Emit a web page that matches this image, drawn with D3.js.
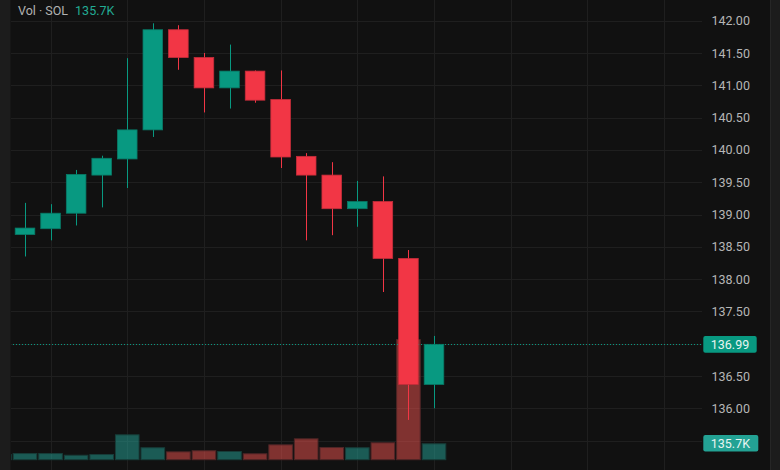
<!DOCTYPE html>
<html>
<head>
<meta charset="utf-8">
<script src="https://cdn.jsdelivr.net/npm/d3@7/dist/d3.min.js"></script>
<style>
  html, body { margin: 0; padding: 0; background: #111111; }
  svg { display: block; }
  text { font-family: Roboto, "Noto Sans", sans-serif; }
</style>
</head>
<body>
<svg id="chart" width="780" height="470"></svg>
<script>
// ---- data ----
const categories = ["b0","b1","b2","b3","b4","b5","b6","b7","b8","b9","b10","b11","b12","b13","b14","b15","b16","b17"];
const openVals  = [138.60, 138.69, 138.78, 139.02, 139.61, 139.86, 140.31, 141.86, 141.43, 140.96, 141.22, 140.78, 139.90, 139.61, 139.09, 139.20, 138.32, 136.37];
const closeVals = [138.69, 138.79, 139.02, 139.62, 139.87, 140.31, 141.86, 141.43, 140.96, 141.22, 140.77, 139.89, 139.61, 139.09, 139.20, 138.32, 136.37, 136.99];
const highVals  = [138.75, 139.18, 139.16, 139.69, 139.91, 141.42, 141.96, 141.93, 141.50, 141.63, 141.23, 141.23, 139.95, 139.81, 139.52, 139.59, 138.45, 137.12];
const lowVals   = [138.50, 138.35, 138.60, 138.83, 139.11, 139.41, 140.20, 141.24, 140.58, 140.64, 140.73, 139.72, 138.60, 138.68, 138.81, 137.80, 135.82, 136.00];
const volumeK   = [47, 55, 55, 41, 47, 210, 103, 69, 78, 72, 53, 127, 177, 105, 103, 144, 998, 135.7];
const priceTicks = [135.5, 136.0, 136.5, 137.0, 137.5, 138.0, 138.5, 139.0, 139.5, 140.0, 140.5, 141.0, 141.5, 142.0];
const lastPriceLabel = "136.99";
const lastVolumeLabel = "135.7K";
const legendName = "Vol · SOL";

// ---- layout ----
const W = 780, H = 470;
const plotLeft = 10, plotRight = 702;
const up = "#089981", down = "#f23645";
const upVol = "rgba(38,166,154,0.5)", downVol = "rgba(239,83,80,0.5)";

const svg = d3.select("#chart");
svg.append("rect").attr("width", W).attr("height", H).attr("fill", "#111111");

const x = d3.scaleLinear().domain([0, categories.length - 1]).range([-0.56, 434]);
const y = d3.scaleLinear().domain([136, 142]).range([408.3, 20.7]);
const yv = d3.scaleLinear().domain([0, 1000]).range([459.7, 338.8]);

const data = categories.map((c, i) => ({
  c, i, o: openVals[i], cl: closeVals[i], h: highVals[i], l: lowVals[i], v: volumeK[i],
  upBar: closeVals[i] >= openVals[i]
}));

svg.append("defs").append("clipPath").attr("id", "plotClip")
  .append("rect").attr("x", plotLeft).attr("y", 0).attr("width", plotRight - plotLeft).attr("height", H);

// grid
const grid = svg.append("g").attr("shape-rendering", "crispEdges");
grid.selectAll("line.h").data(priceTicks).join("line")
  .attr("x1", plotLeft).attr("x2", plotRight)
  .attr("y1", d => Math.round(y(d)) + 0.5).attr("y2", d => Math.round(y(d)) + 0.5)
  .attr("stroke", "#1f1f1f");
const vIdx = d3.range(2, 28, 3);
grid.selectAll("line.v").data(vIdx.filter(i => x(i) < plotRight)).join("line")
  .attr("x1", d => Math.round(x(d)) + 0.5).attr("x2", d => Math.round(x(d)) + 0.5)
  .attr("y1", 0).attr("y2", H)
  .attr("stroke", "#1f1f1f");

const plot = svg.append("g").attr("clip-path", "url(#plotClip)");

// volume bars
const vw = 24.6;
plot.append("g").selectAll("rect").data(data).join("rect")
  .attr("x", d => x(d.i) - vw / 2 + 0.5)
  .attr("width", vw - 1)
  .attr("y", d => yv(d.v) + 0.5)
  .attr("height", d => yv(0) - yv(d.v) - 0.5)
  .attr("fill", d => d.upBar ? upVol : downVol)
  .attr("stroke", d => d.upBar ? "#173d39" : "#4f2526")
  .attr("stroke-width", 1);

// price line
plot.append("line")
  .attr("x1", plotLeft).attr("x2", plotRight)
  .attr("y1", Math.round(y(closeVals[closeVals.length - 1])) + 0.5)
  .attr("y2", Math.round(y(closeVals[closeVals.length - 1])) + 0.5)
  .attr("stroke", up).attr("stroke-width", 1).attr("stroke-dasharray", "1,2");

// candles
const bw = 19.6;
const candles = plot.append("g").selectAll("g").data(data).join("g");
candles.append("line")
  .attr("x1", d => Math.round(x(d.i)) + 0.5).attr("x2", d => Math.round(x(d.i)) + 0.5)
  .attr("y1", d => y(d.h)).attr("y2", d => y(d.l))
  .attr("stroke", d => d.upBar ? up : down).attr("stroke-width", 1);
candles.append("rect")
  .attr("x", d => x(d.i) - bw / 2)
  .attr("width", bw)
  .attr("y", d => y(Math.max(d.o, d.cl)))
  .attr("height", d => Math.max(1, Math.abs(y(d.o) - y(d.cl))))
  .attr("fill", d => d.upBar ? up : down)
  .attr("stroke", d => d.upBar ? "#087a67" : "#c52d3a")
  .attr("stroke-width", 0.8);

// side strips
svg.append("rect").attr("x", 0).attr("y", 0).attr("width", plotLeft).attr("height", H).attr("fill", "#1c1c1c");
svg.append("line").attr("x1", plotLeft + 0.5).attr("x2", plotLeft + 0.5).attr("y1", 0).attr("y2", H).attr("stroke", "#161616");
svg.append("rect").attr("x", 770).attr("y", 0).attr("width", 10).attr("height", H).attr("fill", "#1c1c1c");
svg.append("line").attr("x1", 770.5).attr("x2", 770.5).attr("y1", 0).attr("y2", H).attr("stroke", "#262626");

// price axis labels
const lastY = y(closeVals[closeVals.length - 1]);
const volY = yv(volumeK[volumeK.length - 1]);
svg.append("g").selectAll("text")
  .data(priceTicks.filter(t => Math.abs(y(t) - lastY) > 12 && Math.abs(y(t) - volY) > 12))
  .join("text")
  .attr("x", 711.5).attr("y", d => y(d))
  .attr("dy", "0.36em")
  .attr("fill", "#b6b6b6")
  .attr("font-size", "12.5px")
  .text(d => d.toFixed(2));

// badges
function badge(yc, w, fill, label) {
  svg.append("rect").attr("x", 703.3).attr("y", yc - 8.3).attr("width", w).attr("height", 16.6)
    .attr("rx", 2).attr("fill", fill);
  svg.append("text").attr("x", 710.8).attr("y", yc).attr("dy", "0.36em")
    .attr("fill", "#e8f4f1").attr("font-size", "12.5px").text(label);
}
badge(lastY, 53.4, up, lastPriceLabel);
badge(volY, 55, "#23a294", lastVolumeLabel);

// legend
const lg = svg.append("text").attr("x", 18).attr("y", 10).attr("dy", "0.36em").attr("font-size", "12.5px");
lg.append("tspan").attr("fill", "#b2b2b2").text(legendName);
lg.append("tspan").attr("fill", "#22ab94").attr("dx", 7).text(lastVolumeLabel);
</script>
</body>
</html>
